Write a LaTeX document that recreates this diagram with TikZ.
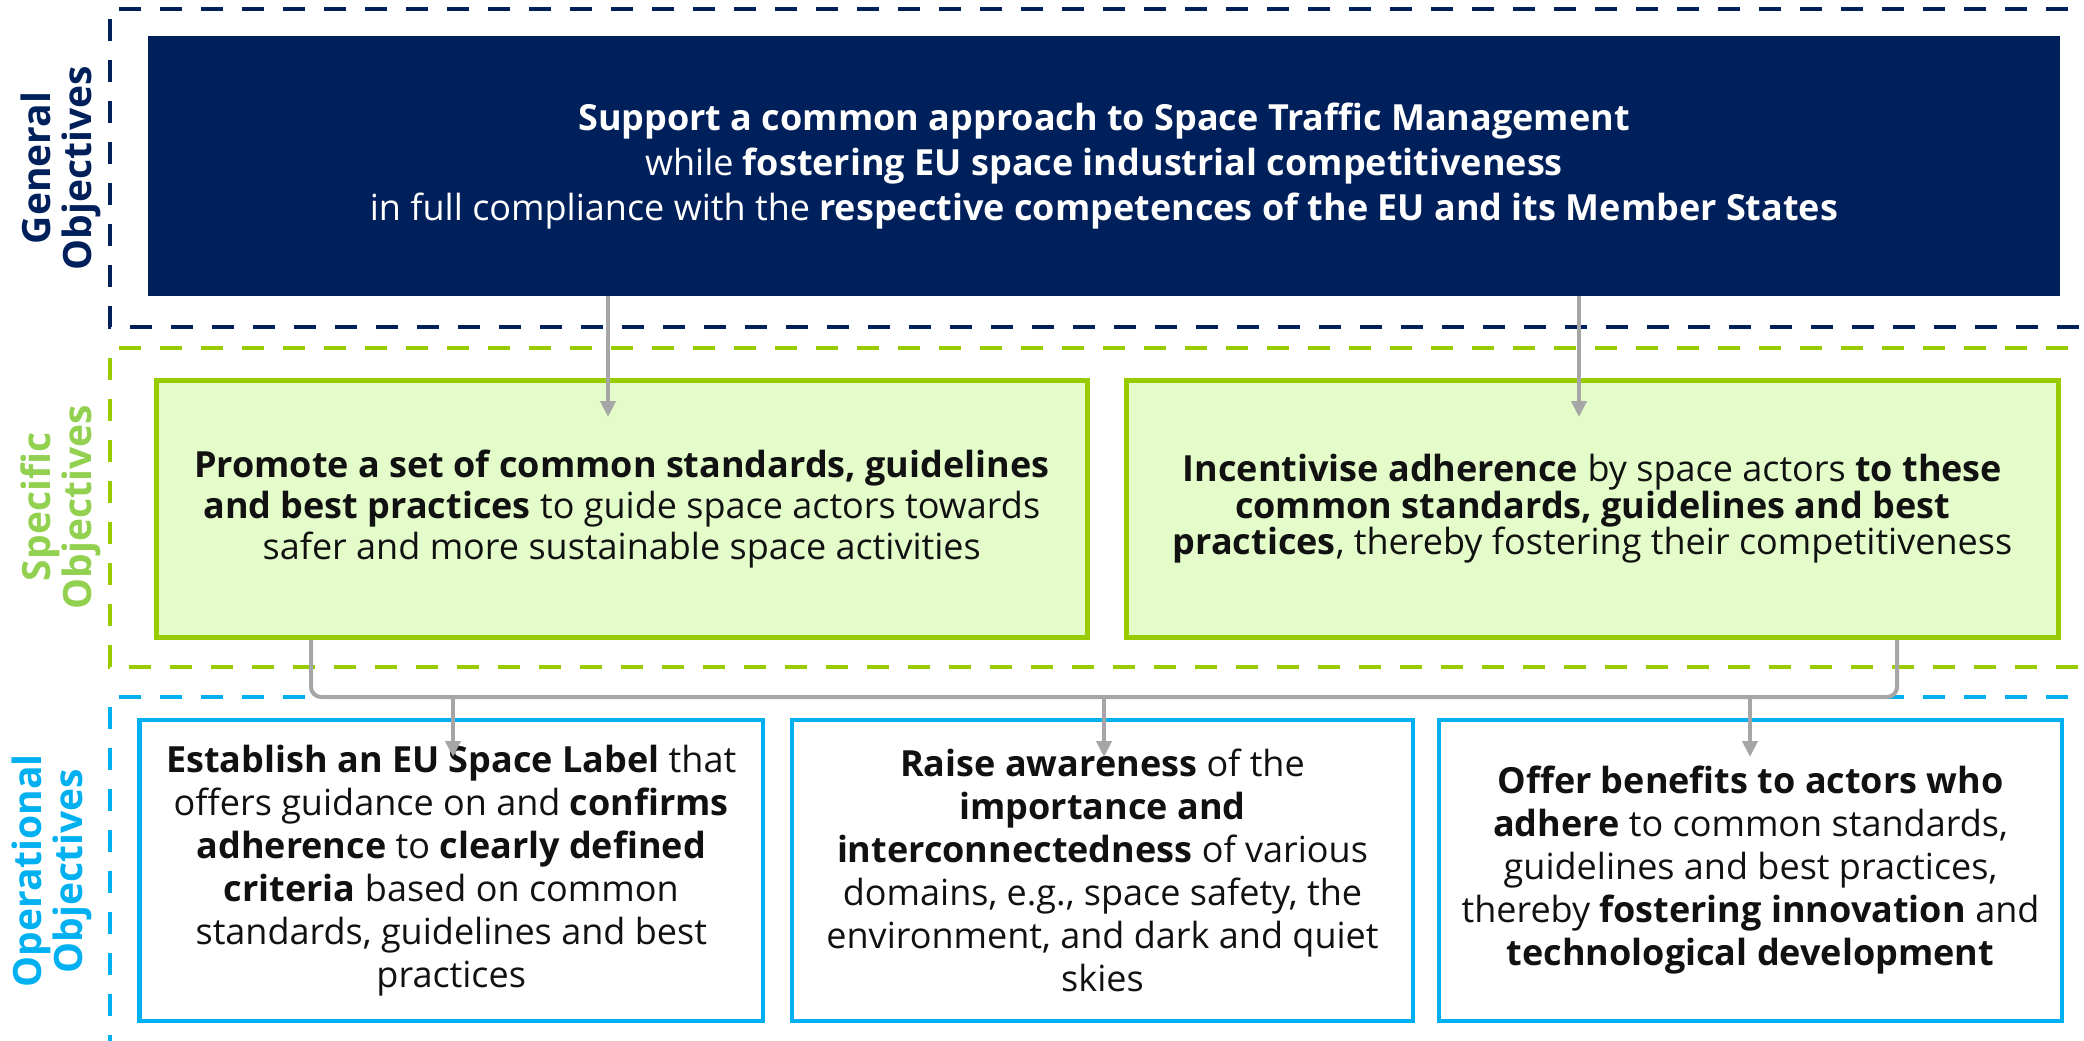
\documentclass[tikz,border=0pt]{standalone}
\usepackage{fontspec}
\setmainfont{Open Sans}
\usetikzlibrary{arrows.meta}
\definecolor{navy}{HTML}{00205B}
\definecolor{lgreen}{HTML}{99CC00}
\definecolor{lgreenfill}{HTML}{E4FCCA}
\definecolor{labgreen}{HTML}{92D050}
\definecolor{skyblue}{HTML}{00B0F0}
\definecolor{conngray}{HTML}{A6A6A6}
\definecolor{txt}{HTML}{111111}
\tikzset{
  frame/.style={line width=2.4pt, dash pattern=on 11pt off 9.5pt},
  sidelabel/.style={rotate=90, align=center, font=\fontsize{19.5}{20.5}\selectfont\bfseries, inner sep=0pt},
  genbox/.style={fill=navy, draw=none, text=white, align=center, inner sep=0pt,
     font=\fontsize{18}{22.3}\selectfont},
  specbox/.style={fill=lgreenfill, draw=lgreen, line width=2.5pt, text=txt, align=center, inner sep=0pt},
  opbox/.style={fill=white, draw=skyblue, line width=2.2pt, text=txt, align=center, inner sep=0pt,
     font=\fontsize{18}{21.5}\selectfont},
  conn/.style={draw=conngray, line width=2pt},
  arr/.style={conn, -{Triangle[width=7.5pt,length=8pt]}},
}
\begin{document}
\begin{tikzpicture}[x=0.5pt,y=-0.5pt]
\useasboundingbox (0,0) rectangle (2084,1040);
\clip (0,0) rectangle (2084,1040);
% frames
\draw[frame, navy] (2150,9) -- (110,9) -- (110,327) -- (2150,327);
\draw[frame, lgreen] (2150,348) -- (110,348) -- (110,667) -- (2150,667);
\draw[frame, skyblue] (2150,697) -- (110,697) -- (110,1060);
% side labels
\node[sidelabel, text=navy] (lgen) at (61,168) {General\\Objectives};
\node[sidelabel, text=labgreen] (lspec) at (61,507) {Specific\\Objectives};
\node[sidelabel, text=skyblue] (lop) at (52,871) {Operational\\Objectives};
% general objective
\node[genbox, minimum width=956pt, minimum height=130pt] (gen) at (1104,166)
 {\textbf{Support a common approach to Space Traffic Management}\\
  while \textbf{fostering EU space industrial competitiveness}\\
  in full compliance with the \textbf{respective competences of the EU and its Member States}};
% specific objectives
\node[specbox, minimum width=465.75pt, minimum height=128.5pt, font=\fontsize{18}{20.6}\selectfont] (s1) at (621.75,509)
 {\textbf{Promote a set of common standards, guidelines}\\
  \textbf{and best practices} to guide space actors towards\\
  safer and more sustainable space activities};
\node[specbox, minimum width=466pt, minimum height=128.5pt, font=\fontsize{18}{18.3}\selectfont] (s2) at (1592.5,509)
 {\textbf{Incentivise adherence} by space actors \textbf{to these}\\
  \textbf{common standards, guidelines and best}\\
  \textbf{practices}, thereby fostering their competitiveness};
% operational objectives
\node[opbox, minimum width=311.75pt, minimum height=150.5pt] (o1) at (451.25,870.5)
 {\textbf{Establish an EU Space Label} that\\
  offers guidance on and \textbf{confirms}\\
  \textbf{adherence} to \textbf{clearly defined}\\
  \textbf{criteria} based on common\\
  standards, guidelines and best\\
  practices};
\node[opbox, minimum width=310.5pt, minimum height=150.5pt] (o2) at (1102.5,870.5)
 {\textbf{Raise awareness} of the\\
  \textbf{importance and}\\
  \textbf{interconnectedness} of various\\
  domains, e.g., space safety, the\\
  environment, and dark and quiet\\
  skies};
\node[opbox, minimum width=311.5pt, minimum height=150.5pt] (o3) at (1750.5,870.5)
 {\textbf{Offer benefits to actors who}\\
  \textbf{adhere} to common standards,\\
  guidelines and best practices,\\
  thereby \textbf{fostering innovation} and\\
  \textbf{technological development}};
% connector coordinates
\coordinate (t1) at (608,417);
\coordinate (t2) at (1579,417);
\coordinate (j1) at (311,697);
\coordinate (j2) at (1897,697);
\coordinate (u1) at (453,757);
\coordinate (u2) at (1104,757);
\coordinate (u3) at (1750,757);
% arrows general -> specific
\draw[arr] (gen.south -| t1) -- (t1);
\draw[arr] (gen.south -| t2) -- (t2);
% bracket specific -> operational
\draw[conn, rounded corners=5pt] (s1.south -| j1) -- (j1) -- (j2) -- (s2.south -| j2);
\draw[arr] (j1 -| u1) -- (u1);
\draw[arr] (j1 -| u2) -- (u2);
\draw[arr] (j1 -| u3) -- (u3);
\end{tikzpicture}
\end{document}
